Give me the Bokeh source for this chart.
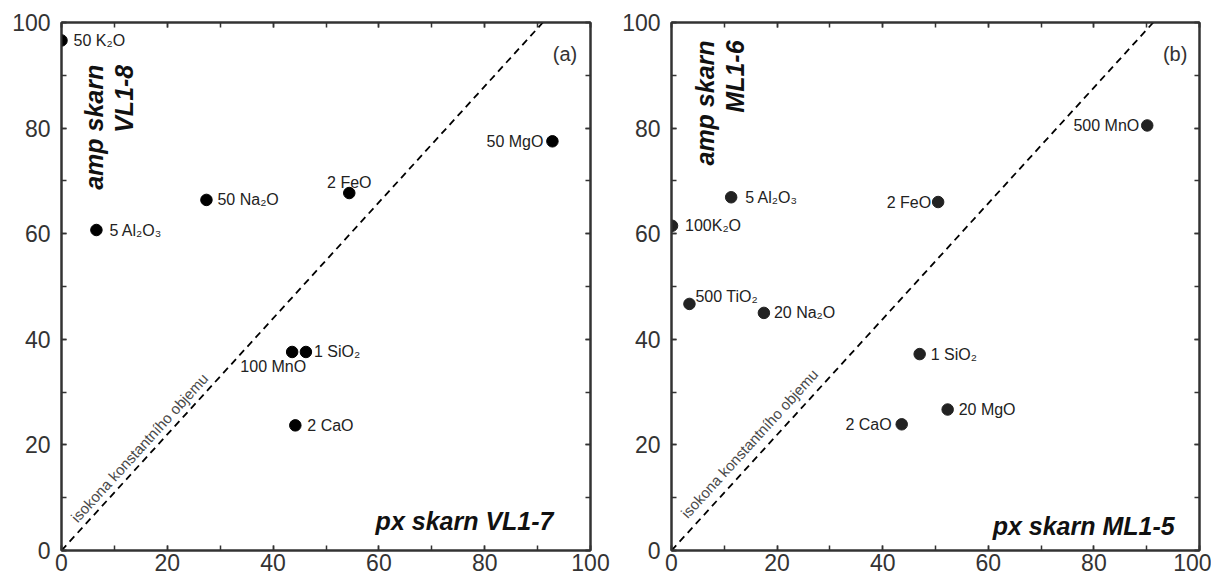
import math
from bokeh.plotting import figure
from bokeh.models import LinearAxis, SingleIntervalTicker, Range1d, CustomJSTickFormatter
from bokeh.layouts import row
from bokeh.embed import file_html
from bokeh.resources import INLINE
from bokeh.core.properties import value

# ---------------- data ----------------
a_labels = ["50 K₂O", "5 Al₂O₃", "50 Na₂O", "2 FeO", "50 MgO", "1 SiO₂", "100 MnO", "2 CaO"]
a_x = [0.0, 6.6, 27.4, 54.4, 92.8, 46.2, 43.6, 44.2]
a_y = [96.6, 60.7, 66.4, 67.7, 77.5, 37.6, 37.6, 23.7]

b_labels = ["500 MnO", "2 FeO", "5 Al₂O₃", "100K₂O", "500 TiO₂", "20 Na₂O", "1 SiO₂", "20 MgO", "2 CaO"]
b_x = [90.1, 50.5, 11.3, 0.1, 3.4, 17.5, 47.0, 52.3, 43.6]
b_y = [80.5, 66.0, 66.9, 61.5, 46.7, 45.0, 37.2, 26.7, 23.9]

isocon_slope_a = 1.099
isocon_slope_b = 1.096

panel_tags = ["(a)", "(b)"]
x_titles = ["px skarn VL1-7", "px skarn ML1-5"]
y_titles = [["amp skarn", "VL1-8"], ["amp skarn", "ML1-6"]]
isocon_text = "isokona konstantního objemu"

# label placement styles: (align, x offset px, y shift px (up), baseline)
a_style = [("left", 12, 0, "middle"), ("left", 13, 0, "middle"), ("left", 11, 0, "middle"),
           ("center", 0, 11, "alphabetic"), ("right", -9, 0, "middle"), ("left", 8, 0, "middle"),
           ("right", 14, -6, "top"), ("left", 12, 0, "middle")]
b_style = [("right", -8, 0, "middle"), ("right", -7, 0, "middle"), ("left", 14, 0, "middle"),
           ("left", 13, 0, "middle"), ("left", 6, 7, "alphabetic"), ("left", 10, 0, "middle"),
           ("left", 11, 0, "middle"), ("left", 11, 0, "middle"), ("right", -10, 0, "middle")]

FONT = value("Liberation Sans")
AX = "#333333"
H = 584
TOP, BOT = 22, 34


def make_panel(labels, xs, ys, styles, slope, tag, xtitle, ytitle, bl, br, frame_w,
               dot_color, tag_x, xtitle_x, xtitle_y, ytitle_x, ytitle_y, iso_xy):
    W = bl + frame_w + br
    frame_h = H - TOP - BOT
    pyu = frame_h / 100.0
    p = figure(width=W, height=H, x_range=Range1d(0, 100), y_range=Range1d(0, 100),
               output_backend="svg", toolbar_location=None,
               min_border_left=bl, min_border_right=br, min_border_top=TOP, min_border_bottom=BOT)
    p.grid.visible = False
    p.outline_line_color = AX
    p.outline_line_width = 2
    for ax in [p.xaxis[0], p.yaxis[0]]:
        ax.ticker = SingleIntervalTicker(interval=20, num_minor_ticks=2)
        ax.major_tick_in = 5
        ax.major_tick_out = 0
        ax.minor_tick_in = 5
        ax.minor_tick_out = 0
        ax.axis_line_width = 2
        ax.axis_line_color = AX
        ax.major_tick_line_color = AX
        ax.minor_tick_line_color = AX
        ax.major_tick_line_width = 1.5
        ax.minor_tick_line_width = 1.5
        ax.major_label_text_font = "Liberation Sans"
        ax.major_label_text_font_size = "23px"
        ax.major_label_text_color = "#333333"
    p.yaxis[0].major_label_standoff = 11
    p.xaxis[0].major_label_standoff = 3
    for loc in ["above", "right"]:
        ax = LinearAxis(ticker=SingleIntervalTicker(interval=20, num_minor_ticks=2),
                        formatter=CustomJSTickFormatter(code="return ''"),
                        major_tick_in=5, major_tick_out=0, minor_tick_in=5, minor_tick_out=0,
                        axis_line_width=2, axis_line_color=AX, major_tick_line_color=AX,
                        minor_tick_line_color=AX, major_tick_line_width=1.5, minor_tick_line_width=1.5,
                        major_label_standoff=0)
        p.add_layout(ax, loc)

    # isocon dashed line
    x_end = 100.0 / slope
    p.line(x=[0, x_end], y=[0, 100], line_color="black", line_width=1.8, line_dash="7 5")
    ang = math.atan(slope * pyu / (frame_w / 100.0))
    p.text(x=[iso_xy[0]], y=[iso_xy[1]], text=[isocon_text], angle=ang, text_font=FONT,
           text_font_size="15px", text_color="#4a4a4a", text_align="left", text_baseline="alphabetic")

    # points
    p.scatter(x=xs, y=ys, size=11.5, fill_color=dot_color, line_color=dot_color, marker="circle")

    # point labels
    for lab, x, y, st in zip(labels, xs, ys, styles):
        align, xo, dy, base = st
        p.text(x=[x], y=[y + dy / pyu], text=[lab], x_offset=xo, text_font=FONT,
               text_font_size="16px", text_color="#222222", text_align=align, text_baseline=base)

    # panel tag
    p.text(x=[tag_x], y=[94.1], text=[tag], text_font=FONT, text_font_size="20px",
           text_color="#333333", text_align="right", text_baseline="middle")
    # x title (bottom right)
    p.text(x=[xtitle_x], y=[xtitle_y], text=[xtitle], text_font=FONT, text_font_size="25px",
           text_font_style="bold italic", text_color="#111111", text_align="right",
           text_baseline="alphabetic")
    # y title (rotated, two lines)
    for line_txt, lx in zip(ytitle, ytitle_x):
        p.text(x=[lx], y=[ytitle_y], text=[line_txt], angle=math.pi / 2, text_font=FONT,
               text_font_size="25px", text_font_style="bold italic", text_color="#111111",
               text_align="right", text_baseline="alphabetic")
    return p


pa = make_panel(a_labels, a_x, a_y, a_style, isocon_slope_a, panel_tags[0], x_titles[0], y_titles[0],
                bl=61, br=20, frame_w=529, dot_color="black", tag_x=97.5,
                xtitle_x=93.0, xtitle_y=5.5, ytitle_x=[6.2, 11.9], ytitle_y=92.0, iso_xy=(2.3, 5.8))
pb = make_panel(b_labels, b_x, b_y, b_style, isocon_slope_b, panel_tags[1], x_titles[1], y_titles[1],
                bl=61, br=12, frame_w=528, dot_color="#222222", tag_x=97.7,
                xtitle_x=95.3, xtitle_y=4.6, ytitle_x=[6.4, 12.1], ytitle_y=96.6, iso_xy=(2.3, 6.6))

layout = row(pa, pb)
open("out.html", "w").write(file_html(layout, INLINE))
